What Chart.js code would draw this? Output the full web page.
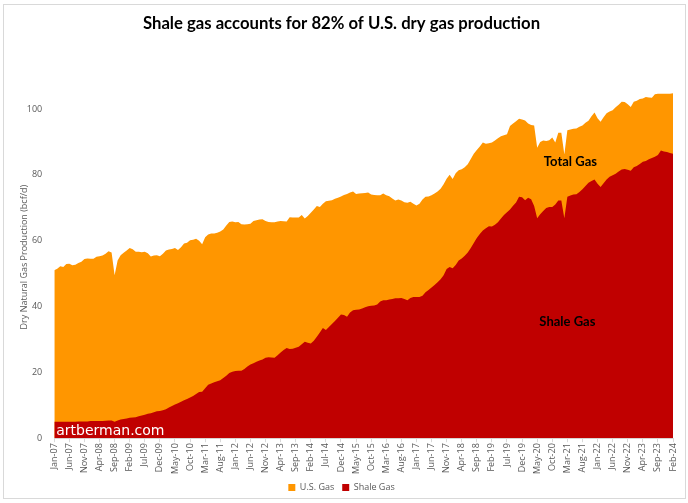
<!DOCTYPE html>
<html>
<head>
<meta charset="utf-8">
<script src="https://cdn.jsdelivr.net/npm/chart.js@4"></script>
<style>
  body { margin: 0; background: #fff; }
  #wrap { position: relative; width: 688px; height: 503px; }
  #frame { position: absolute; left: 3px; top: 4px; width: 681px; height: 493px; border: 1px solid #d9d9d9; pointer-events: none; }
</style>
</head>
<body>
<div id="wrap">
  <canvas id="gasChart" width="688" height="503"></canvas>
  <div id="frame"></div>
</div>
<script>
// months Jan-07 .. Feb-24
const monthNames = ['Jan','Feb','Mar','Apr','May','Jun','Jul','Aug','Sep','Oct','Nov','Dec'];
const years = [7,8,9,10,11,12,13,14,15,16,17,18,19,20,21,22,23,24];
const months = [];
years.forEach(y => monthNames.forEach((m, k) => {
  if (y === 24 && k > 1) return;
  months.push(m + '-' + String(y).padStart(2, '0'));
}));

// bcf/d
const usGas = [
  51.0, 51.5, 52.2, 52.0, 52.9, 53.0, 52.5, 52.7, 53.2, 53.6, 54.4, 54.6,
  54.5, 54.5, 55.1, 55.3, 55.5, 56.0, 56.8, 56.4, 49.5, 54.0, 55.6, 56.3,
  57.0, 57.8, 57.4, 56.6, 56.6, 56.5, 56.6, 56.2, 55.2, 55.5, 55.6, 55.3,
  56.0, 57.0, 57.3, 57.5, 57.8, 57.2, 58.0, 59.1, 59.4, 60.1, 60.3, 60.6,
  60.0, 58.9, 61.0, 61.9, 62.2, 62.2, 62.4, 62.8, 63.4, 64.6, 65.7, 65.8,
  65.6, 65.7, 65.0, 64.9, 65.0, 65.1, 66.0, 66.2, 66.4, 66.5, 66.0, 65.7,
  65.6, 65.6, 65.8, 66.0, 65.9, 65.8, 67.1, 67.0, 67.0, 67.0, 67.8, 66.7,
  67.5, 68.5, 69.5, 70.5, 70.2, 71.2, 72.0, 72.1, 72.3, 72.7, 73.0, 73.4,
  73.9, 74.2, 74.6, 74.9, 74.2, 74.3, 74.4, 74.5, 74.6, 74.0, 73.9, 73.8,
  73.8, 74.3, 73.8, 73.5, 72.8, 72.2, 72.5, 72.2, 71.7, 71.5, 71.8, 71.2,
  70.7, 71.2, 72.5, 73.3, 73.4, 73.8, 74.3, 74.9, 75.8, 77.1, 78.8, 80.0,
  78.7, 80.5, 81.4, 81.7, 82.3, 83.2, 84.8, 86.4, 87.5, 88.6, 89.8, 89.4,
  89.6, 89.8, 90.4, 91.1, 91.7, 92.0, 92.3, 94.8, 95.6, 96.3, 97.0, 96.8,
  96.5, 95.6, 95.1, 95.0, 88.2, 90.0, 90.4, 90.3, 90.5, 91.3, 89.8, 92.8,
  92.8, 86.2, 93.5, 93.8, 94.0, 94.1, 94.6, 95.0, 95.8, 96.4, 97.8, 98.9,
  97.2, 96.1, 97.5, 98.7, 99.2, 99.6, 100.5, 101.3, 102.2, 102.1, 101.4, 100.6,
  102.2, 102.5, 103.0, 103.2, 103.6, 103.5, 103.4, 104.5, 104.6, 104.6, 104.6, 104.6,
  104.6, 104.8
];
const shaleGas = [
  5.0, 5.0, 5.0, 5.0, 5.0, 5.0, 5.0, 5.0, 5.1, 5.1, 5.1, 5.1,
  5.2, 5.2, 5.2, 5.2, 5.2, 5.3, 5.4, 5.4, 5.0, 5.4, 5.7, 5.8,
  6.0, 6.2, 6.3, 6.4, 6.7, 6.9, 7.1, 7.4, 7.6, 7.9, 8.2, 8.3,
  8.5, 8.8, 9.3, 9.8, 10.2, 10.6, 11.1, 11.5, 11.9, 12.4, 12.8, 13.4,
  14.0, 14.1, 15.2, 16.2, 16.6, 17.0, 17.3, 17.6, 18.3, 19.0, 19.8, 20.2,
  20.4, 20.5, 20.5, 21.0, 21.8, 22.4, 22.8, 23.2, 23.6, 23.9, 24.4, 24.6,
  24.5, 24.4, 25.2, 26.0, 26.8, 27.4, 27.1, 27.2, 27.5, 27.8, 28.5, 29.3,
  29.0, 28.8, 29.6, 30.8, 32.1, 33.5, 32.9, 33.8, 34.7, 35.6, 36.6, 37.6,
  37.4, 36.9, 38.2, 38.9, 39.0, 39.1, 39.4, 39.8, 40.1, 40.2, 40.3, 40.6,
  41.5, 41.9, 41.9, 42.1, 42.3, 42.5, 42.5, 42.6, 42.3, 41.9, 42.6, 42.9,
  42.9, 42.9, 43.3, 44.3, 45.0, 45.8, 46.5, 47.4, 48.3, 49.5, 51.4, 52.0,
  51.6, 52.6, 54.0, 54.6, 55.4, 56.4, 57.8, 59.3, 60.8, 62.0, 63.1, 63.8,
  64.4, 64.3, 64.8, 65.6, 66.7, 67.8, 68.6, 69.5, 70.6, 71.6, 73.3, 73.2,
  72.3, 73.0, 72.6, 70.5, 66.8, 68.0, 69.0, 69.9, 70.2, 70.2, 71.0, 72.2,
  72.2, 66.8, 73.3, 73.7, 74.0, 74.1, 74.8, 75.6, 76.6, 77.6, 78.1, 78.6,
  77.3, 76.3, 77.4, 78.6, 79.4, 79.9, 80.3, 81.0, 81.6, 81.8, 81.5, 81.2,
  82.3, 82.7, 83.3, 84.0, 84.2, 84.7, 85.1, 85.5, 86.0, 87.4, 87.1, 86.9,
  86.6, 86.4
];
const yTicks = [0, 20, 40, 60, 80, 100];

// area labels, placed in data units
const notes = [
  { text: 'Total Gas', idx: 171, val: 84 },
  { text: 'Shale Gas', idx: 170, val: 35.5 }
];

const textPlugin = {
  id: 'notes',
  afterDatasetsDraw(chart) {
    const { ctx, scales: { x, y }, chartArea } = chart;
    ctx.save();
    ctx.fillStyle = '#000';
    ctx.font = 'bold 13px Lato';
    ctx.textAlign = 'center';
    ctx.textBaseline = 'middle';
    notes.forEach(n => ctx.fillText(n.text, x.getPixelForValue(n.idx), y.getPixelForValue(n.val)));
    // watermark
    ctx.fillStyle = '#fff';
    ctx.font = '14px "DejaVu Sans"';
    ctx.textAlign = 'left';
    ctx.textBaseline = 'bottom';
    ctx.fillText('artberman.com', chartArea.left + 2, chartArea.bottom);
    ctx.restore();
  }
};

new Chart(document.getElementById('gasChart'), {
  type: 'line',
  data: {
    labels: months,
    datasets: [
      { label: 'U.S. Gas', data: usGas, backgroundColor: '#ff9600', borderWidth: 0, fill: 'origin', pointRadius: 0, order: 2 },
      { label: 'Shale Gas', data: shaleGas, backgroundColor: '#c00000', borderWidth: 0, fill: 'origin', pointRadius: 0, order: 1 }
    ]
  },
  options: {
    responsive: false,
    animation: false,
    layout: { padding: { left: 10, right: 15, top: 0, bottom: 1 } },
    plugins: {
      title: {
        display: true,
        text: 'Shale gas accounts for 82% of U.S. dry gas production',
        font: { family: 'Lato', size: 16.7, weight: 'bold' },
        color: '#000',
        padding: { top: 14, bottom: 42 }
      },
      legend: {
        position: 'bottom',
        labels: {
          boxWidth: 7, boxHeight: 7, padding: 8, color: '#595959', font: { family: 'Open Sans', size: 9 },
          sort: (a, b) => a.datasetIndex - b.datasetIndex
        }
      },
      tooltip: { enabled: false }
    },
    scales: {
      x: {
        grid: { display: true, drawOnChartArea: false, tickLength: 4, color: '#d9d9d9' },
        border: { color: '#d9d9d9' },
        ticks: {
          autoSkip: false, maxRotation: 90, minRotation: 90, padding: 1,
          color: '#595959', font: { family: 'Open Sans', size: 9 },
          callback: (v, i) => (i % 5 === 0 ? months[i] : null)
        }
      },
      y: {
        min: 0, max: 110,
        afterBuildTicks: s => { s.ticks = yTicks.map(v => ({ value: v })); },
        grid: { display: false },
        border: { display: false },
        ticks: { color: '#595959', font: { family: 'Open Sans', size: 9 }, padding: 4 },
        title: { display: true, text: 'Dry Natural Gas Production (bcf/d)', color: '#595959', font: { family: 'Open Sans', size: 9 }, padding: { top: 9, bottom: -7 } }
      }
    }
  },
  plugins: [textPlugin]
});
</script>
</body>
</html>
